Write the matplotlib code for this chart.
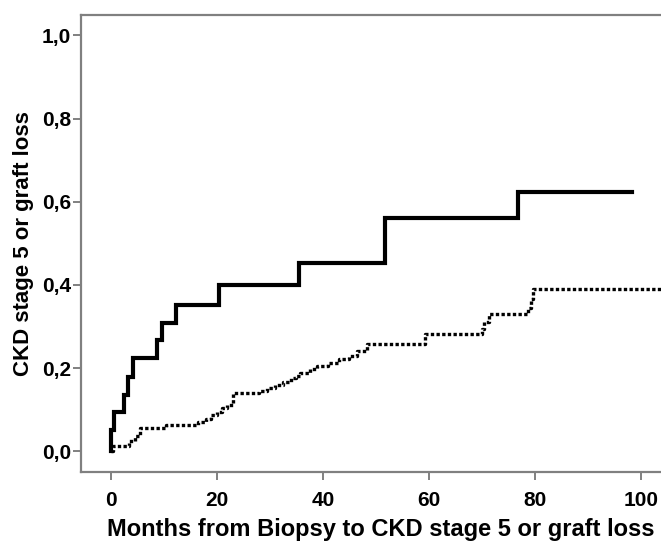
import matplotlib
matplotlib.use('Agg')
import matplotlib.pyplot as plt

plt.rcParams['font.family'] = ['Liberation Sans', 'DejaVu Sans']

# group 1 (solid): months at which cumulative incidence steps up, and value after step
solid_months = [0, 0, 0.7, 2.5, 3.3, 4.2, 8.7, 9.6, 12.4, 20.5, 35.5, 51.7, 76.9, 98.3]
solid_vals = [0.0, 0.05, 0.095, 0.135, 0.179, 0.223, 0.267, 0.309, 0.351, 0.40,
              0.453, 0.562, 0.623, 0.623]

# group 2 (dotted)
dot_months = [0, 0.5, 3.5, 4.5, 5.5, 10.5, 16.5, 18, 19, 20, 21, 22, 23,
              28, 29.5, 31, 32.5, 34, 35, 35.7, 37.5, 39, 41, 43, 45, 46.5, 48.3,
              59.3, 70, 70.5, 71.3, 78.8, 79.2, 79.6, 104]
dot_vals = [0.0, 0.012, 0.025, 0.037, 0.055, 0.063, 0.07, 0.078, 0.087, 0.095, 0.105, 0.112, 0.139,
            0.145, 0.152, 0.16, 0.167, 0.175, 0.182, 0.187, 0.197, 0.205, 0.213, 0.222, 0.23, 0.24, 0.259,
            0.281, 0.295, 0.31, 0.33, 0.345, 0.365, 0.389, 0.389]

xticks = [0, 20, 40, 60, 80, 100]
yticks = [0.0, 0.2, 0.4, 0.6, 0.8, 1.0]
ytick_labels = ['0,0', '0,2', '0,4', '0,6', '0,8', '1,0']

fig = plt.figure(figsize=(6.61, 5.42), dpi=100)
ax = fig.add_axes([81 / 661, 70 / 542, 1 - 81 / 661, 457 / 542])

ax.step(solid_months, solid_vals, where='post', color='black', lw=3.0,
        solid_joinstyle='miter')
ax.step(dot_months, dot_vals, where='post', color='black', lw=2.4,
        linestyle=(0, (1, 0.7)), dash_capstyle='butt')

ax.set_xlim(-5.6, 103.8)
ax.set_ylim(-0.05, 1.049)

ax.set_xticks(xticks)
ax.set_yticks(yticks)
ax.set_yticklabels(ytick_labels)

for side in ['left', 'bottom', 'top']:
    ax.spines[side].set_color('#808080')
    ax.spines[side].set_linewidth(1.6)
ax.spines['right'].set_visible(False)

ax.tick_params(axis='both', color='#808080', width=1.4, length=6, direction='out')
ax.tick_params(axis='x', pad=8)
ax.tick_params(axis='y', pad=1)
for lab in ax.get_xticklabels() + ax.get_yticklabels():
    lab.set_fontsize(15)
    lab.set_fontweight('bold')

ax.set_xlabel('Months from Biopsy to CKD stage 5 or graft loss', fontsize=17,
              fontweight='bold')
ax.xaxis.set_label_coords(0.517, -0.1)
ax.set_ylabel('CKD stage 5 or graft loss', fontsize=16, fontweight='bold', labelpad=6)

fig.savefig('out.png', dpi=100)
